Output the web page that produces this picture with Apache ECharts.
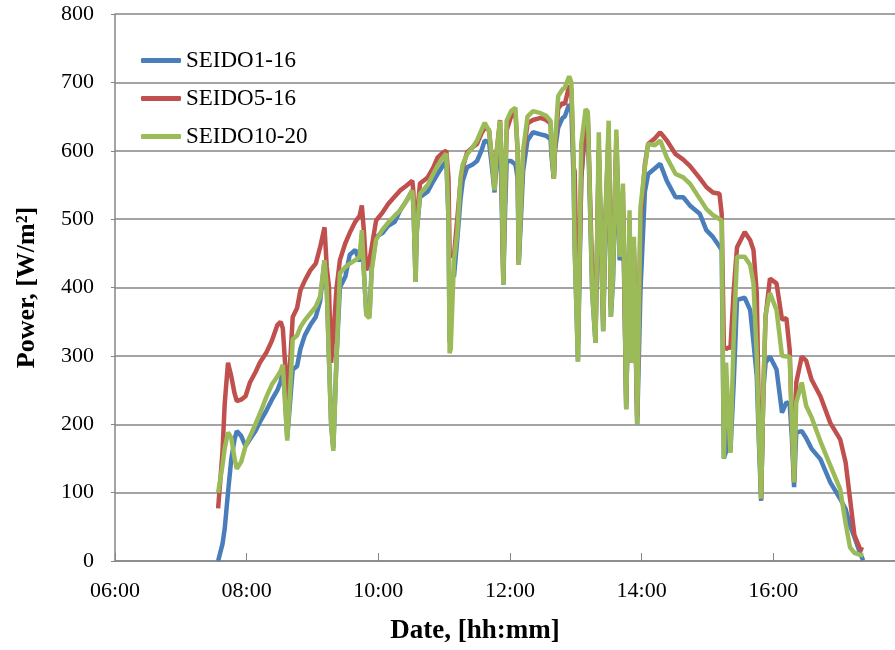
<!DOCTYPE html>
<html>
<head>
<meta charset="utf-8">
<script src="https://cdn.jsdelivr.net/npm/echarts@6/dist/echarts.min.js"></script>
<style>
  html, body { margin: 0; padding: 0; background: #fff; }
  #chart { width: 895px; height: 650px; }
</style>
</head>
<body>
<div id="chart"></div>
<script>
// sample times (hh:mm) shared by the three strings
const times = [
  '07:34','07:38','07:40','07:43','07:46','07:49','07:51','07:55','07:59','08:03',
  '08:08','08:12','08:18','08:23','08:28','08:31','08:33','08:35','08:37','08:40',
  '08:42','08:46','08:49','08:53','08:58','09:03','09:07','09:11','09:13','09:15',
  '09:17','09:19','09:22','09:25','09:30','09:34','09:39','09:43','09:45','09:47',
  '09:49','09:52','09:54','09:58','10:04','10:09','10:15','10:20','10:25','10:31',
  '10:32','10:34','10:35','10:38','10:45','10:50','10:54','10:58','11:02','11:04',
  '11:05','11:06','11:09','11:12','11:15','11:17','11:21','11:26','11:30','11:34',
  '11:37','11:41','11:44','11:46','11:48','11:51','11:52','11:54','11:55','11:57',
  '12:01','12:05','12:07','12:08','12:10','12:12','12:16','12:21','12:28','12:33',
  '12:37','12:38','12:40','12:41','12:44','12:48','12:50','12:54','12:56','12:58',
  '12:59','13:02','13:05','13:09','13:11','13:15','13:18','13:21','13:25','13:27',
  '13:30','13:32','13:34','13:37','13:40','13:41','13:43','13:46','13:49','13:51',
  '13:53','13:56','13:59','14:03','14:06','14:12','14:17','14:23','14:31','14:38',
  '14:44','14:53','14:59','15:05','15:11','15:13','15:15','15:17','15:19','15:21',
  '15:24','15:27','15:34','15:39','15:42','15:45','15:47','15:49','15:51','15:53',
  '15:57','16:03','16:08','16:12','16:15','16:17','16:19','16:21','16:26','16:30',
  '16:35','16:43','16:52','17:01','17:06','17:10','17:14','17:19','17:22'
];

const seido1 = [
  0,25,47,100,149,178,190,183,168,178,
  190,203,220,236,250,262,280,240,180,240,
  280,285,310,330,345,357,380,440,400,300,
  200,165,300,400,416,448,455,438,475,420,
  365,360,430,474,480,490,496,513,525,542,
  520,408,480,532,540,555,566,576,585,500,
  320,420,416,470,530,556,576,580,585,600,
  615,612,570,539,590,590,560,404,480,585,
  585,580,560,433,500,570,615,627,624,622,
  617,590,559,600,634,648,650,668,660,560,
  459,292,560,640,640,392,319,600,336,480,
  620,357,411,600,440,445,520,222,490,290,
  450,200,396,540,566,574,581,556,532,532,
  520,508,484,474,460,455,150,160,200,160,
  261,382,385,367,320,270,170,88,250,290,
  299,280,217,232,230,180,108,188,190,180,
  164,149,115,91,76,52,35,12,1
];

const seido5 = [
  77,160,230,290,270,245,234,236,241,261,
  276,290,305,322,345,350,340,290,236,300,
  357,370,396,410,425,435,459,488,430,401,
  290,330,400,440,465,480,496,505,520,480,
  425,440,459,498,510,522,533,542,548,556,
  540,430,500,552,561,575,590,596,600,560,
  450,446,447,500,556,575,598,605,610,625,
  634,630,580,545,600,645,600,410,500,630,
  650,655,600,440,520,590,640,645,648,645,
  640,600,560,600,662,670,668,695,690,576,
  570,320,560,650,650,420,330,600,350,500,
  630,370,440,620,460,470,540,230,500,300,
  460,210,500,580,610,618,627,615,595,587,
  578,560,547,539,537,508,314,310,312,312,
  396,459,481,469,455,392,200,91,250,357,
  413,406,353,355,309,200,115,261,299,293,
  265,241,202,178,144,91,38,18,16
];

const seido10 = [
  100,140,165,188,180,150,135,145,168,182,
  200,215,240,258,270,278,287,230,176,260,
  324,330,342,352,362,372,387,440,400,295,
  200,161,300,421,430,435,440,445,484,420,
  360,355,425,470,485,495,505,513,525,542,
  520,408,480,537,550,566,578,588,596,500,
  304,310,440,480,561,580,595,605,615,630,
  641,629,580,542,600,644,600,404,500,644,
  658,663,600,433,520,600,650,658,655,651,
  644,600,559,610,680,690,692,709,700,585,
  459,292,610,661,657,392,319,627,336,500,
  644,357,420,631,445,460,552,222,513,290,
  474,200,517,576,610,608,615,590,566,561,
  552,530,515,506,500,498,150,290,220,158,
  330,445,445,433,406,300,180,91,250,360,
  392,367,300,299,299,200,115,232,261,227,
  210,175,140,105,55,20,12,9,8
];

const yTicks = [0, 100, 200, 300, 400, 500, 600, 700, 800];

function toMin(t) {
  const p = t.split(':');
  return (+p[0]) * 60 + (+p[1]);
}
function pad(n) { return (n < 10 ? '0' : '') + n; }
function pairs(vals) {
  return vals.map((v, i) => [toMin(times[i]), v]);
}

const serif = 'Liberation Serif';
const chart = echarts.init(document.getElementById('chart'));
chart.setOption({
  animation: false,
  color: ['#4a7ebb', '#c0504d', '#9bbb59'],
  textStyle: { fontFamily: serif, color: '#000' },
  grid: { left: 115, right: 0, top: 14, bottom: 88 },
  legend: {
    orient: 'vertical',
    left: 141,
    top: 49,
    padding: 0,
    icon: 'roundRect',
    itemWidth: 40,
    itemHeight: 5,
    itemGap: 15,
    textStyle: { fontFamily: serif, fontSize: 23, color: '#000' },
    data: ['SEIDO1-16', 'SEIDO5-16', 'SEIDO10-20']
  },
  xAxis: {
    type: 'value',
    min: 360,
    max: 1071,
    interval: 120,
    name: 'Date, [hh:mm]',
    nameLocation: 'middle',
    nameGap: 57,
    nameTextStyle: { fontFamily: serif, fontSize: 27, fontWeight: 'bold', color: '#000', padding: [0, 60, 0, 0] },
    axisLine: { lineStyle: { color: '#868686', width: 1.5 } },
    axisTick: { inside: true, length: 8, lineStyle: { color: '#868686' } },
    splitLine: { show: false },
    axisLabel: {
      fontFamily: serif, fontSize: 22, color: '#000', margin: 19,
      showMaxLabel: false,
      formatter: v => pad(Math.floor(v / 60)) + ':' + pad(v % 60)
    }
  },
  yAxis: {
    type: 'value',
    min: yTicks[0],
    max: yTicks[yTicks.length - 1],
    interval: 100,
    name: 'Power, [W/m²]',
    nameLocation: 'middle',
    nameGap: 75,
    nameTextStyle: { fontFamily: serif, fontSize: 26, fontWeight: 'bold', color: '#000' },
    axisLine: { show: true, lineStyle: { color: '#868686', width: 1.5 } },
    axisTick: { show: true, length: 4, lineStyle: { color: '#868686' } },
    splitLine: { lineStyle: { color: '#868686', width: 1.5 } },
    axisLabel: { fontFamily: serif, fontSize: 22, color: '#000', margin: 21 }
  },
  series: [
    { name: 'SEIDO1-16', type: 'line', symbol: 'none', lineStyle: { width: 4.5 }, data: pairs(seido1) },
    { name: 'SEIDO5-16', type: 'line', symbol: 'none', lineStyle: { width: 4.5 }, data: pairs(seido5) },
    { name: 'SEIDO10-20', type: 'line', symbol: 'none', lineStyle: { width: 4.5 }, data: pairs(seido10) }
  ]
});
</script>
</body>
</html>
